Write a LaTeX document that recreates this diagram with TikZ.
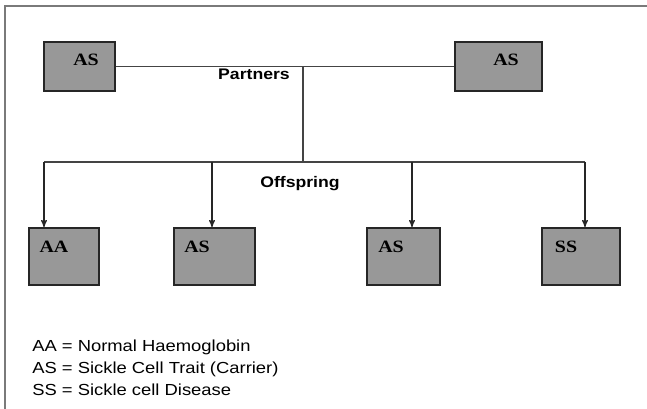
\documentclass[tikz,border=0pt]{standalone}
\usepackage{fontspec}
\setmainfont{Liberation Sans}[FakeStretch=1.15]
\newfontfamily\boxfont{Liberation Serif}[FakeStretch=1.15]
\usetikzlibrary{positioning,calc,arrows,shapes}
\definecolor{boxgray}{HTML}{989898}
\definecolor{linegray}{HTML}{444444}
\definecolor{framegray}{HTML}{7A7A7A}
\tikzset{
  auto,
  gene/.style={rectangle,draw=black!85,fill=boxgray,line width=1.2pt,inner sep=0pt},
  genetext/.style={font=\boxfont\bfseries\fontsize{13}{15}\selectfont,inner sep=0pt,text height=1.6ex,text depth=0pt},
  heading/.style={font=\bfseries\fontsize{11.5}{13}\selectfont,inner sep=0pt},
  >=stealth'
}

\begin{document}
\begin{tikzpicture}[x=0.75pt,y=-0.75pt]
    \useasboundingbox (0,0) rectangle (647,409);
    \draw[framegray, line width=1.5pt] (5,409) -- (5,6.5) -- (647,6.5);

    % partners
    \node at (79.5, 66.5) [gene, minimum width=53pt, minimum height=37pt] (p1) {};
    \node at (498.5, 66.5) [gene, minimum width=65pt, minimum height=37pt] (p2) {};
    \node at (86, 60) [genetext] (p1t) {AS};
    \node at (506, 60) [genetext] (p2t) {AS};
    \node at (254, 74) [heading] (partners) {Partners};

    % offspring
    \node at (64, 256.5) [gene, minimum width=52.5pt, minimum height=43pt] (c1) {};
    \node at (214.5, 256.5) [gene, minimum width=61pt, minimum height=43pt] (c2) {};
    \node at (403.5, 256.5) [gene, minimum width=55pt, minimum height=43pt] (c3) {};
    \node at (581, 256.5) [gene, minimum width=58.5pt, minimum height=43pt] (c4) {};
    \node at (54, 247) [genetext] (c1t) {AA};
    \node at (197, 247) [genetext] (c2t) {AS};
    \node at (391, 247) [genetext] (c3t) {AS};
    \node at (566, 247) [genetext] (c4t) {SS};
    \node at (300, 184) [heading] (offspring) {Offspring};

    \coordinate (join) at (303, 66.5);
    \coordinate (split) at (303, 162);
    \coordinate (b1) at (44, 162);
    \coordinate (b2) at (212, 162);
    \coordinate (b3) at (412, 162);
    \coordinate (b4) at (585, 162);

    \draw[linegray, line width=0.8pt] (p1) -- (p2);
    \draw[linegray, line width=0.8pt] (join) -- (split);
    \draw[linegray, line width=0.8pt] (b1) -- (b4);
    \path[->, black!85, line width=0.9pt]
    (b1) edge (b1 |- c1.north)
    (b2) edge (b2 |- c2.north)
    (b3) edge (b3 |- c3.north)
    (b4) edge (b4 |- c4.north);

    % legend
    \node at (32, 339.5) [anchor=north west, inner sep=0pt, align=left,
      font=\fontsize{12}{16.5}\selectfont] (legend)
      {AA = Normal Haemoglobin\\AS = Sickle Cell Trait (Carrier)\\SS = Sickle cell Disease};
\end{tikzpicture}
\end{document}
